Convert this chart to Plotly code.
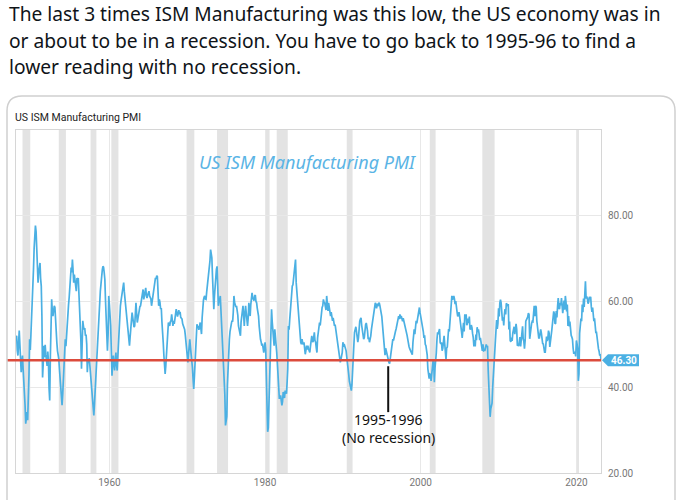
import pandas as pd
import plotly.graph_objects as go

# ---------------- data (monthly ISM Manufacturing PMI) ----------------
pmi_1948_1959 = [
    51.7, 52.0, 48.6, 47.4, 50.3, 53.2, 50.0, 47.9, 43.5, 45.6, 47.4, 44.2,
    42.0, 37.5, 35.8, 31.5, 33.8, 34.2, 32.3, 36.4, 43.0, 51.2, 48.7, 52.3,
    55.5, 58.6, 63.9, 67.5, 72.4, 75.1, 77.7, 76.3, 71.6, 68.9, 64.4, 66.7,
    68.2, 69.0, 65.4, 63.6, 56.5, 42.3, 45.5, 49.7, 47.0, 49.9, 47.6, 45.8,
    45.0, 48.3, 46.2, 39.8, 36.9, 47.3, 55.4, 60.5, 57.6, 56.6, 57.9, 59.0,
    58.6, 55.3, 51.2, 50.4, 48.5, 47.8, 46.6, 44.2, 41.3, 38.9, 37.2, 35.8,
    38.4, 42.0, 45.3, 47.8, 51.2, 49.6, 52.8, 55.3, 56.8, 59.2, 61.0, 63.6,
    64.5, 67.9, 66.8, 69.8, 67.4, 64.4, 66.3, 65.2, 63.5, 62.4, 65.5, 64.3,
    65.5, 62.2, 59.0, 55.4, 51.2, 44.3, 48.5, 55.5, 54.2, 53.5, 53.8, 52.0,
    52.3, 50.0, 43.5, 46.2, 45.8, 46.8, 45.0, 43.8, 40.5, 38.9, 36.4, 34.5,
    33.4, 36.2, 39.2, 42.3, 45.5, 48.1, 52.4, 55.0, 58.2, 60.3, 62.4, 64.0,
    66.7, 67.3, 68.2, 68.0, 66.8, 65.2, 60.4, 55.1, 50.2, 48.5, 52.3, 61.3,
]
pmi_1960s = [
    59.2, 57.0, 54.3, 48.4, 42.7, 45.3, 47.4, 45.5, 43.9, 46.3, 48.1, 45.2,
    43.9, 47.2, 50.5, 54.3, 56.8, 59.0, 60.2, 61.3, 61.8, 63.2, 64.4, 62.3,
    60.5, 58.3, 57.6, 55.9, 53.2, 51.2, 50.3, 49.7, 51.8, 53.5, 55.2, 57.4,
    56.3, 55.1, 54.0, 54.3, 57.2, 59.7, 57.3, 55.1, 56.0, 57.2, 57.4, 58.8,
    59.0, 60.1, 61.2, 62.0, 62.8, 60.5, 61.8, 62.4, 63.2, 61.3, 60.8, 61.5,
    62.0, 62.4, 61.3, 61.0, 60.6, 59.0, 60.3, 61.5, 62.2, 63.0, 64.6, 65.5,
    65.3, 66.0, 65.8, 61.8, 59.0, 60.5, 59.8, 58.2, 58.5, 55.2, 53.5, 50.5,
    47.4, 45.2, 43.1, 45.0, 47.3, 50.5, 52.8, 55.1, 54.6, 54.3, 55.3, 55.5,
    57.0, 55.8, 54.3, 55.5, 54.8, 55.9, 57.2, 58.2, 57.3, 56.5, 57.2, 58.0,
    57.0, 57.6, 56.3, 56.0, 55.9, 54.8, 54.3, 54.1, 53.5, 52.2, 50.5, 49.0,
]
pmi_1970s = [
    48.2, 45.8, 47.6, 49.5, 51.2, 49.3, 48.0, 47.4, 44.6, 42.0, 39.6, 42.3,
    46.0, 49.2, 51.0, 54.7, 53.8, 54.3, 53.4, 54.6, 55.1, 53.8, 52.4, 56.2,
    59.7, 60.3, 61.0, 61.3, 60.6, 60.5, 62.2, 63.5, 65.2, 66.3, 68.0, 69.4,
    72.1, 70.8, 70.2, 65.8, 62.0, 58.2, 61.2, 64.4, 66.3, 67.5, 68.2, 64.8,
    59.0, 60.2, 60.5, 61.3, 57.8, 55.0, 54.3, 50.2, 46.5, 43.5, 38.2, 31.1,
    31.9, 33.2, 40.4, 45.3, 49.0, 51.2, 53.0, 54.7, 54.8, 55.5, 55.3, 57.5,
    61.3, 59.8, 59.0, 58.7, 59.0, 58.2, 56.8, 54.3, 53.6, 52.4, 52.0, 55.2,
    56.6, 58.2, 59.0, 56.8, 54.3, 57.2, 59.0, 57.3, 55.6, 54.3, 56.2, 59.7,
    58.0, 56.6, 59.2, 60.5, 62.0, 60.8, 60.5, 60.2, 61.3, 61.5, 60.0, 59.7,
    58.4, 57.5, 56.6, 54.2, 52.0, 51.2, 50.6, 49.7, 50.2, 49.4, 48.1, 49.1,
]
pmi_1980s = [
    50.5, 48.8, 43.5, 37.2, 29.6, 30.5, 35.2, 40.4, 46.3, 51.2, 58.2, 55.3,
    53.5, 51.3, 49.7, 53.5, 52.2, 50.0, 48.1, 45.6, 43.5, 40.2, 37.3, 37.8,
    38.1, 36.8, 35.8, 36.7, 38.9, 37.8, 37.5, 39.2, 38.8, 38.5, 41.2, 44.3,
    54.3, 53.4, 55.6, 58.2, 59.3, 61.5, 63.6, 63.9, 65.2, 66.3, 68.0, 69.8,
    64.4, 62.2, 60.5, 58.3, 57.0, 55.9, 53.4, 50.5, 50.0, 51.2, 50.4, 50.0,
    50.5, 48.9, 47.7, 48.6, 49.7, 48.8, 49.7, 49.0, 48.4, 48.1, 49.6, 50.5,
    52.0, 50.8, 50.5, 51.6, 52.8, 50.9, 50.5, 49.1, 48.1, 51.5, 52.8, 54.3,
    55.1, 54.4, 56.5, 57.4, 58.6, 59.0, 60.5, 59.8, 59.6, 58.8, 58.0, 61.3,
    60.0, 57.8, 59.7, 58.4, 57.0, 56.6, 57.5, 55.8, 55.5, 56.2, 55.0, 54.3,
    54.6, 53.5, 51.9, 51.1, 50.5, 49.7, 48.4, 47.6, 45.8, 46.5, 47.3, 48.1,
]
pmi_1990s = [
    50.5, 49.4, 50.1, 49.5, 48.8, 48.5, 47.1, 45.0, 44.6, 43.0, 41.4, 40.5,
    39.6, 39.2, 40.6, 43.0, 45.6, 50.0, 52.8, 53.4, 54.1, 53.0, 51.2, 50.5,
    51.5, 55.0, 55.4, 55.9, 56.2, 54.4, 53.5, 52.8, 51.2, 51.6, 53.5, 54.6,
    55.0, 54.3, 53.1, 51.2, 51.6, 50.5, 51.1, 52.0, 53.5, 54.4, 55.6, 56.6,
    57.5, 58.4, 59.7, 59.0, 58.4, 59.5, 58.9, 59.5, 59.7, 59.1, 58.4, 58.0,
    56.5, 54.6, 52.4, 49.7, 48.6, 47.5, 49.1, 48.4, 47.4, 47.0, 46.2, 45.8,
    45.5, 46.6, 47.0, 49.1, 50.0, 51.2, 50.9, 52.0, 52.6, 53.0, 53.6, 54.5,
    55.0, 55.6, 56.6, 55.9, 57.0, 56.0, 56.6, 56.0, 55.4, 56.1, 55.5, 54.5,
    54.0, 53.6, 52.5, 52.1, 51.2, 49.9, 49.5, 49.0, 48.6, 48.5, 48.1, 47.6,
    50.5, 52.6, 53.5, 52.4, 54.6, 55.5, 54.9, 56.0, 57.0, 57.6, 58.6, 57.4,
]
pmi_2000s = [
    56.5, 55.6, 55.0, 54.4, 53.0, 51.5, 52.1, 50.0, 49.7, 48.6, 47.5, 44.3,
    42.5, 42.0, 43.1, 43.0, 41.5, 43.6, 43.4, 46.1, 46.0, 41.2, 44.5, 46.0,
    48.0, 51.1, 52.8, 52.4, 53.0, 53.6, 50.5, 50.1, 50.5, 48.5, 49.1, 51.5,
    52.0, 50.1, 47.4, 46.5, 49.1, 49.4, 51.5, 53.6, 53.0, 55.5, 58.1, 60.0,
    61.3, 60.4, 61.0, 61.3, 60.6, 59.4, 60.1, 58.0, 57.6, 56.5, 57.1, 57.5,
    56.5, 55.4, 55.0, 52.9, 51.5, 53.6, 55.0, 53.0, 57.0, 56.4, 57.0, 54.5,
    54.8, 56.0, 55.0, 56.5, 53.5, 53.6, 54.5, 53.9, 52.5, 51.6, 49.5, 51.0,
    49.5, 52.3, 51.0, 54.0, 52.9, 53.5, 52.5, 51.0, 51.5, 50.5, 50.6, 48.5,
    50.0, 48.5, 48.6, 48.6, 49.5, 50.0, 49.5, 49.5, 44.0, 38.9, 36.5, 33.1,
    35.0, 35.8, 36.3, 40.1, 42.8, 44.8, 48.9, 52.9, 52.6, 55.7, 53.6, 54.9,
]
pmi_2010s = [
    58.4, 56.5, 59.6, 60.4, 59.7, 56.2, 55.5, 56.3, 54.4, 56.9, 58.2, 57.0,
    59.6, 59.3, 59.1, 59.4, 53.5, 55.3, 50.9, 50.6, 51.6, 50.8, 52.7, 53.9,
    54.1, 52.4, 53.4, 54.8, 53.5, 49.7, 49.8, 49.6, 51.5, 51.7, 49.5, 50.7,
    53.1, 54.2, 51.3, 50.7, 49.0, 50.9, 55.4, 55.7, 56.2, 56.4, 57.3, 57.0,
    51.3, 53.2, 53.7, 54.9, 55.4, 55.3, 57.1, 59.0, 56.6, 59.0, 58.7, 55.5,
    53.5, 52.9, 51.5, 51.5, 52.8, 53.5, 52.7, 51.1, 50.2, 50.1, 48.6, 48.2,
    48.2, 49.5, 51.8, 50.8, 51.3, 53.2, 52.6, 49.4, 51.5, 51.9, 53.2, 54.7,
    56.0, 57.7, 57.2, 54.8, 54.9, 57.8, 56.3, 58.8, 60.8, 58.7, 58.2, 59.7,
    59.1, 60.8, 59.3, 57.3, 58.7, 60.2, 58.1, 61.3, 59.8, 57.7, 59.3, 54.3,
    56.6, 54.2, 55.3, 52.8, 52.1, 51.7, 51.2, 49.1, 47.8, 48.3, 48.1, 47.2,
]
pmi_2020s = [
    50.9, 50.1, 49.1, 41.5, 43.1, 52.6, 54.2, 56.0, 55.4, 59.3, 57.5, 60.7,
    58.7, 60.8, 64.7, 60.7, 61.2, 60.6, 59.5, 59.9, 61.1, 60.8, 61.1, 58.8,
    57.6, 58.6, 57.1, 55.4, 56.1, 53.0, 52.8, 52.8, 50.9, 50.2, 49.0, 48.4,
    47.4, 47.7, 46.3,
]
series_start = "1948-01-01"

# NBER recessions (shaded bands)
rec_start = ["1948-11-01", "1953-07-01", "1957-08-01", "1960-04-01", "1969-12-01", "1973-11-01",
             "1980-01-01", "1981-07-01", "1990-07-01", "2001-03-01", "2007-12-01", "2020-02-01"]
rec_end = ["1949-10-31", "1954-05-31", "1958-04-30", "1961-02-28", "1970-11-30", "1975-03-31",
           "1980-07-31", "1982-11-30", "1991-03-31", "2001-11-30", "2009-06-30", "2020-04-30"]

x_tick_years = [1960, 1980, 2000, 2020]
y_tick_vals = [20, 40, 60, 80]
latest_value = 46.3
note_date = "1995-10-28"
note_lines = ["1995-1996", "(No recession)"]

tweet_lines = [
    "The last 3 times ISM Manufacturing was this low, the US economy was in",
    "or about to be in a recession. You have to go back to 1995-96 to find a",
    "lower reading with no recession.",
]
chart_header = "US ISM Manufacturing PMI"
watermark = "US ISM Manufacturing PMI"

# ---------------- build ----------------
values = (pmi_1948_1959 + pmi_1960s + pmi_1970s + pmi_1980s + pmi_1990s
          + pmi_2000s + pmi_2010s + pmi_2020s)
dates = pd.date_range(series_start, periods=len(values), freq="MS")

BLUE = "#4BB0E3"
RED = "#DC4B3C"
BAND = "#E3E3E3"
GRID = "#E8E8E8"
AXIS = "#D6D6D6"

fig = go.Figure()
fig.add_trace(go.Scatter(x=dates, y=values, mode="lines",
                         line=dict(color=BLUE, width=1.7), hoverinfo="skip",
                         showlegend=False))

shapes = []
for s, e in zip(rec_start, rec_end):
    shapes.append(dict(type="rect", xref="x", yref="paper", x0=s, x1=e, y0=0, y1=1,
                       fillcolor=BAND, line=dict(width=0), layer="below"))

# red reference line at latest value (extends a little left of the plot)
shapes.append(dict(type="line", xref="paper", yref="y", x0=-0.0155, x1=1,
                   y0=latest_value, y1=latest_value, line=dict(color=RED, width=2.6)))

# value tag at right edge
shapes.append(dict(type="path", xref="paper", yref="y", xsizemode="pixel", ysizemode="pixel",
                   xanchor=1, yanchor=latest_value,
                   path="M 1 0 L 7 6 L 38 6 L 38 -6 L 7 -6 Z",
                   fillcolor=BLUE, line=dict(width=0)))

# annotation pointer line
shapes.append(dict(type="line", xref="x", yref="y", x0=note_date, x1=note_date,
                   y0=44.9, y1=34.2, line=dict(color="#111111", width=2)))

# card outline (rounded top corners), pixel coordinates relative to plot bottom-left
shapes.append(dict(type="path", xref="paper", yref="paper", xsizemode="pixel", ysizemode="pixel",
                   xanchor=0, yanchor=0,
                   path="M -9 -60 L -9 362 Q -9 377 6 377 L 644 377 Q 659 377 659 362 L 659 -60",
                   line=dict(color="#CFCFCF", width=1.5), layer="above"))

annotations = []
tweet_y = [1.3382, 1.2595, 1.1837]
for t, yy in zip(tweet_lines, tweet_y):
    annotations.append(dict(text=t, xref="paper", yref="paper", x=-0.0149, y=yy,
                            xanchor="left", yanchor="middle", showarrow=False,
                            font=dict(family="Noto Sans", size=19.2, color="#0F1419")))
annotations.append(dict(text=chart_header, xref="paper", yref="paper", x=-0.005, y=1.035,
                        xanchor="left", yanchor="middle", showarrow=False,
                        font=dict(family="Roboto", size=10.5, color="#222222")))
annotations.append(dict(text=watermark, xref="paper", yref="paper", x=0.4977, y=0.9067,
                        xanchor="center", yanchor="middle", showarrow=False,
                        font=dict(family="Noto Sans", size=18, color="#5AB4E5", style="italic")))
annotations.append(dict(text=note_lines[0], xref="x", yref="y", x=note_date, y=32.4,
                        xanchor="center", yanchor="middle", showarrow=False,
                        font=dict(family="Noto Sans", size=14, color="#111111")))
annotations.append(dict(text=note_lines[1], xref="x", yref="y", x=note_date, y=28.2,
                        xanchor="center", yanchor="middle", showarrow=False,
                        font=dict(family="Noto Sans", size=14, color="#111111")))
annotations.append(dict(text="<b>%.2f</b>" % latest_value, xref="paper", yref="y", x=1, y=latest_value,
                        xanchor="center", yanchor="middle", xshift=23, showarrow=False,
                        font=dict(family="Roboto", size=10, color="white")))

fig.update_layout(
    width=690, height=500,
    margin=dict(l=16, r=89, t=130, b=27),
    paper_bgcolor="white", plot_bgcolor="white",
    shapes=shapes, annotations=annotations,
    showlegend=False,
    xaxis=dict(type="date", range=[series_start, dates[-1]],
               tickvals=[pd.Timestamp(f"{y}-01-01") for y in x_tick_years],
               ticktext=[str(y) for y in x_tick_years],
               showgrid=True, gridcolor=GRID, gridwidth=1,
               showline=True, linecolor=AXIS, linewidth=1, mirror=True,
               ticks="", zeroline=False,
               tickfont=dict(family="Roboto", size=10, color="#777777")),
    yaxis=dict(range=[20, 100], side="right", tickvals=y_tick_vals,
               tickformat=".2f", showgrid=True, gridcolor=GRID, gridwidth=1,
               showline=True, linecolor=AXIS, linewidth=1, mirror=True,
               ticks="outside", ticklen=4, tickcolor="rgba(0,0,0,0)", zeroline=False,
               tickfont=dict(family="Roboto", size=10, color="#777777")),
)

fig.write_html("out.html", config={"displayModeBar": False},
               post_script="document.body.style.margin='0';")
